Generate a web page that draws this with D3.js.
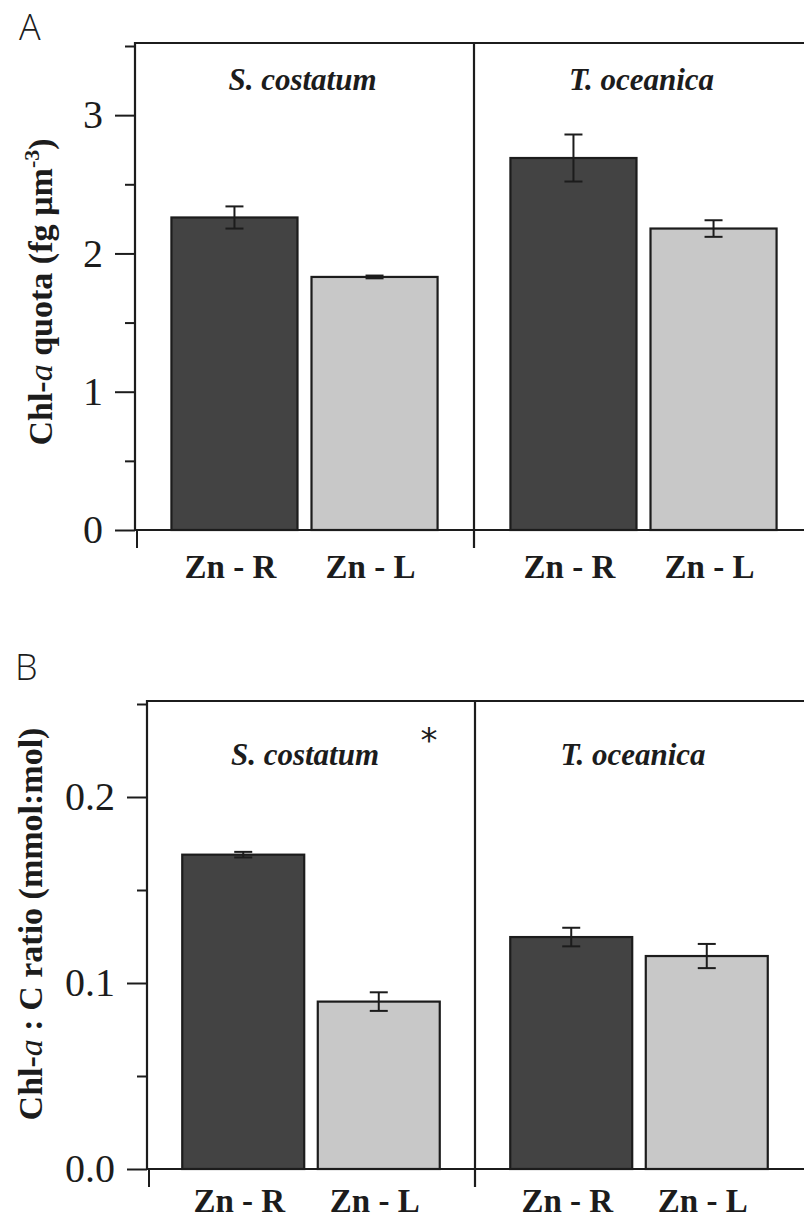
<!DOCTYPE html>
<html>
<head>
<meta charset="utf-8">
<script src="https://cdn.jsdelivr.net/npm/d3@7"></script>
<style>
  html, body { margin: 0; padding: 0; background: #fff; }
  svg { display: block; }
</style>
</head>
<body>
<svg id="chart" width="804" height="1218"></svg>
<script>
// ---- data ----
const species = ["S. costatum", "T. oceanica"];
const treatments = ["Zn - R", "Zn - L"];
// Panel A: Chl-a quota (fg µm^-3), order: species x treatment
const quotaValues = [2.26, 1.83, 2.69, 2.18];
const quotaErrors = [0.08, 0.01, 0.17, 0.06];
// Panel B: Chl-a : C ratio (mmol:mol)
const ratioValues = [0.169, 0.090, 0.1247, 0.1145];
const ratioErrors = [0.0015, 0.005, 0.005, 0.0065];
const quotaTicks = [0, 1, 2, 3];
const quotaMinorTicks = [0.5, 1.5, 2.5, 3.5];
const ratioTicks = [0.0, 0.1, 0.2];
const ratioMinorTicks = [0.05, 0.15, 0.25];

const SERIF = "'Liberation Serif', 'Times New Roman', Times, serif";
const svg = d3.select("#chart");
const ink = "#1c1c1c";
const fills = {"Zn - R": "#434343", "Zn - L": "#c8c8c8"};

function panel(opts) {
  const g = svg.append("g");
  const y = d3.scaleLinear().domain(opts.domain).range([opts.base, opts.top]);
  const outer = d3.scaleBand().domain(species).range([opts.left, opts.left + 2 * opts.groupW]);
  const inner = d3.scaleBand().domain(treatments).range([0, outer.bandwidth()])
    .paddingInner(0.1).paddingOuter(0.26);

  const rows = [];
  species.forEach((s, i) => treatments.forEach((t, j) => {
    rows.push({s, t, v: opts.values[i * 2 + j], e: opts.errors[i * 2 + j]});
  }));

  // bars
  g.selectAll("rect.bar").data(rows).enter().append("rect")
    .attr("class", "bar")
    .attr("x", d => outer(d.s) + inner(d.t))
    .attr("width", inner.bandwidth())
    .attr("y", d => y(d.v))
    .attr("height", d => y(0) - y(d.v))
    .attr("fill", d => fills[d.t])
    .attr("stroke", ink).attr("stroke-width", 2.2);

  // error bars
  const eb = g.selectAll("g.err").data(rows).enter().append("g").attr("class", "err")
    .attr("stroke", ink).attr("stroke-width", 2);
  const cx = d => outer(d.s) + inner(d.t) + inner.bandwidth() / 2;
  eb.append("line").attr("x1", cx).attr("x2", cx)
    .attr("y1", d => y(d.v + d.e)).attr("y2", d => y(d.v - d.e));
  eb.append("line").attr("x1", d => cx(d) - 9).attr("x2", d => cx(d) + 9)
    .attr("y1", d => y(d.v + d.e)).attr("y2", d => y(d.v + d.e));
  eb.append("line").attr("x1", d => cx(d) - 9).attr("x2", d => cx(d) + 9)
    .attr("y1", d => y(d.v - d.e)).attr("y2", d => y(d.v - d.e));

  // frame: top line, divider, baseline
  const right = opts.left + 2 * opts.groupW + 10;
  g.append("line").attr("x1", opts.left).attr("x2", right)
    .attr("y1", opts.frameTop).attr("y2", opts.frameTop)
    .attr("stroke", ink).attr("stroke-width", 2.2);
  g.append("line").attr("x1", opts.left).attr("x2", right)
    .attr("y1", y(0)).attr("y2", y(0))
    .attr("stroke", ink).attr("stroke-width", 2.2);
  g.append("line").attr("x1", outer(species[1])).attr("x2", outer(species[1]))
    .attr("y1", opts.frameTop).attr("y2", y(0) + 18)
    .attr("stroke", ink).attr("stroke-width", 2.2);
  g.append("line").attr("x1", opts.left + 2).attr("x2", opts.left + 2)
    .attr("y1", y(0)).attr("y2", y(0) + 18)
    .attr("stroke", ink).attr("stroke-width", 2);

  // y axis
  const ax = g.append("g").attr("transform", `translate(${opts.left},0)`)
    .call(d3.axisLeft(y).tickValues(opts.ticks).tickSize(20).tickPadding(12)
      .tickFormat(opts.fmt));
  ax.attr("font-family", null).attr("font-size", null);
  ax.select(".domain").remove();
  ax.selectAll(".tick line").attr("stroke", ink).attr("stroke-width", 2);
  ax.selectAll(".tick text")
    .style("font-family", SERIF).style("font-size", opts.tickSize + "px")
    .attr("fill", ink);
  const axm = g.append("g").attr("transform", `translate(${opts.left},0)`)
    .call(d3.axisLeft(y).tickValues(opts.minor).tickSize(10).tickFormat(""));
  axm.select(".domain").remove();
  axm.selectAll(".tick line").attr("stroke", ink).attr("stroke-width", 2);
  g.append("line").attr("x1", opts.left).attr("x2", opts.left)
    .attr("y1", opts.frameTop - 1).attr("y2", y(0) + 1)
    .attr("stroke", ink).attr("stroke-width", 2.2);

  // species labels
  g.selectAll("text.sp").data(species).enter().append("text")
    .attr("x", d => outer(d) + outer.bandwidth() / 2 + opts.spDx)
    .attr("y", opts.spY)
    .attr("text-anchor", "middle")
    .style("font-family", SERIF).style("font-size", "31px")
    .style("font-weight", "bold").style("font-style", "italic")
    .attr("fill", ink)
    .text(d => d);

  // x category labels
  g.selectAll("text.xl").data(rows).enter().append("text")
    .attr("x", d => cx(d) - 4)
    .attr("y", opts.xlY)
    .attr("text-anchor", "middle")
    .style("font-family", SERIF).style("font-size", "33px").style("font-weight", "bold")
    .attr("fill", ink)
    .text(d => d.t);

  // y title
  const tt = g.append("text")
    .attr("transform", `translate(${opts.titleX},${opts.titleY}) rotate(-90)`)
    .attr("text-anchor", "middle")
    .style("font-family", SERIF).style("font-size", "34px").style("font-weight", "bold")
    .attr("fill", ink);
  opts.title(tt);

  // panel letter
  g.append("text").attr("x", opts.letterX).attr("y", opts.letterY)
    .style("font-family", "'Open Sans', 'DejaVu Sans', sans-serif")
    .style("font-weight", 300).style("font-size", "36px").attr("fill", ink)
    .text(opts.letter);
  return {g, outer, y};
}

panel({
  letter: "A", letterX: 19, letterY: 40,
  domain: [0, 3.5], base: 530, top: 46, frameTop: 43,
  left: 135, groupW: 339,
  values: quotaValues, errors: quotaErrors,
  ticks: quotaTicks, minor: quotaMinorTicks, fmt: d3.format("d"), tickSize: 40,
  spY: 90, spDx: -2, xlY: 578,
  titleX: 52, titleY: 292,
  title: t => {
    t.append("tspan").text("Chl-");
    t.append("tspan").style("font-style", "italic").style("font-weight", "normal").text("a");
    t.append("tspan").text(" quota (fg µm");
    t.append("tspan").style("font-size", "22px").attr("dy", -13).text("-3");
    t.append("tspan").attr("dy", 13).text(")");
  }
});

const pb = panel({
  letter: "B", letterX: 15, letterY: 680,
  domain: [0, 0.25], base: 1169, top: 704, frameTop: 701,
  left: 147, groupW: 328,
  values: ratioValues, errors: ratioErrors,
  ticks: ratioTicks, minor: ratioMinorTicks, fmt: d3.format(".1f"), tickSize: 40,
  spY: 765, spDx: -6, xlY: 1212,
  titleX: 42, titleY: 924,
  title: t => {
    t.append("tspan").text("Chl-");
    t.append("tspan").style("font-style", "italic").style("font-weight", "normal").text("a");
    t.append("tspan").text(" : C ratio (mmol:mol)");
  }
});

// significance marker
pb.g.append("text")
  .attr("x", pb.outer(species[0]) + pb.outer.bandwidth() * 0.86)
  .attr("y", 752)
  .attr("text-anchor", "middle")
  .style("font-family", "'DejaVu Sans', sans-serif")
  .style("font-size", "34px").attr("fill", ink)
  .text("*");
</script>
</body>
</html>
